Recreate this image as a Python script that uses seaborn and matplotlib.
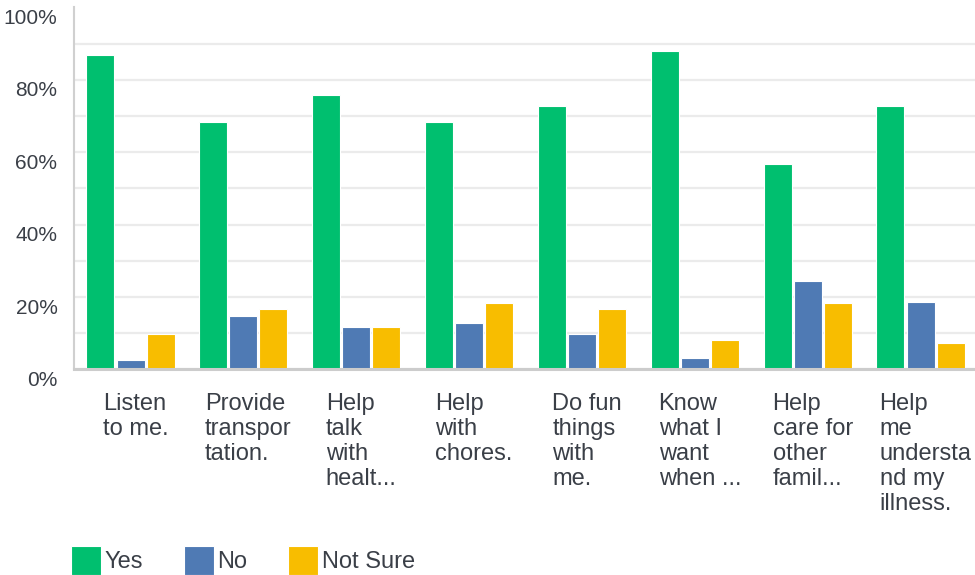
import pandas as pd
import matplotlib.pyplot as plt
import matplotlib.transforms as mtransforms
import seaborn as sns

# Datos
categorias = ['Listen\nto me.', 'Provide\ntranspor\ntation.', 'Help\ntalk\nwith\nhealt...',
              'Help\nwith\nchores.', 'Do fun\nthings\nwith\nme.', 'Know\nwhat I\nwant\nwhen ...',
              'Help\ncare for\nother\nfamil...', 'Help\nme\nundersta\nnd my\nillness.']
yes = [86.9, 68.4, 75.8, 68.4, 72.8, 88.0, 56.7, 72.8]
no = [2.6, 14.9, 11.7, 12.8, 9.7, 3.1, 24.4, 18.6]
not_sure = [9.7, 16.7, 11.7, 18.3, 16.7, 8.1, 18.3, 7.2]
respuestas = ['Yes', 'No', 'Not Sure']
colores = {'Yes': '#00BF6F', 'No': '#4F7AB4', 'Not Sure': '#F8BD00'}

df = pd.DataFrame({'Categoria': categorias * 3,
                   'Respuesta': [r for r in respuestas for _ in categorias],
                   'Valor': yes + no + not_sure})

sns.set_theme(style='white')
plt.rcParams['font.family'] = ['Liberation Sans', 'DejaVu Sans']
texto = '#3a3f47'

fig = plt.figure(figsize=(9.75, 5.75), dpi=100)
ax = fig.add_axes([0.076, 0.3574, 0.926, 0.6296])
sns.barplot(data=df, x='Categoria', y='Valor', hue='Respuesta', hue_order=respuestas,
            palette=colores, width=0.8, gap=0.07, saturation=1, ax=ax,
            edgecolor='white', linewidth=0.8, legend=True)

ax.set_xlim(-0.5, 7.5)
ax.set_ylim(0, 100)
ax.set_yticks(range(0, 101, 10))
ax.set_yticklabels([f'{v}%' if v % 20 == 0 else '' for v in range(0, 101, 10)])
ax.yaxis.grid(True, color='#ebebeb', linewidth=1.6)
ax.get_ygridlines()[-1].set_visible(False)
ax.set_axisbelow(True)
ax.tick_params(axis='y', length=0, pad=12, labelsize=15, labelcolor=texto)
ax.tick_params(axis='x', length=0, pad=17, labelsize=17, labelcolor=texto)
# etiquetas del eje y un poco por debajo de su linea, como en el original
desplaza_y = mtransforms.ScaledTranslation(0, -0.09, fig.dpi_scale_trans)
for t in ax.get_yticklabels():
    t.set_transform(t.get_transform() + desplaza_y)
desplaza_x = mtransforms.ScaledTranslation(0.05, 0, fig.dpi_scale_trans)
for t in ax.get_xticklabels():
    t.set_multialignment('left')
    t.set_linespacing(1.18)
    t.set_transform(t.get_transform() + desplaza_x)
ax.set_xlabel('')
ax.set_ylabel('')
for lado in ['top', 'right']:
    ax.spines[lado].set_visible(False)
ax.spines['left'].set_color('#d0d0d0')
ax.spines['left'].set_linewidth(1.5)
ax.spines['bottom'].set_color('#cccccc')
ax.spines['bottom'].set_linewidth(2.2)

handles, labels = ax.get_legend_handles_labels()
ax.legend_.remove()
fig.legend(handles, labels, loc='lower left', bbox_to_anchor=(0.051, -0.037), ncol=3,
           frameon=False, fontsize=17, handlelength=1.27, handleheight=1.5,
           handletextpad=0.17, columnspacing=1.7, labelcolor=texto)

plt.savefig('out.png', dpi=100)
plt.close()
